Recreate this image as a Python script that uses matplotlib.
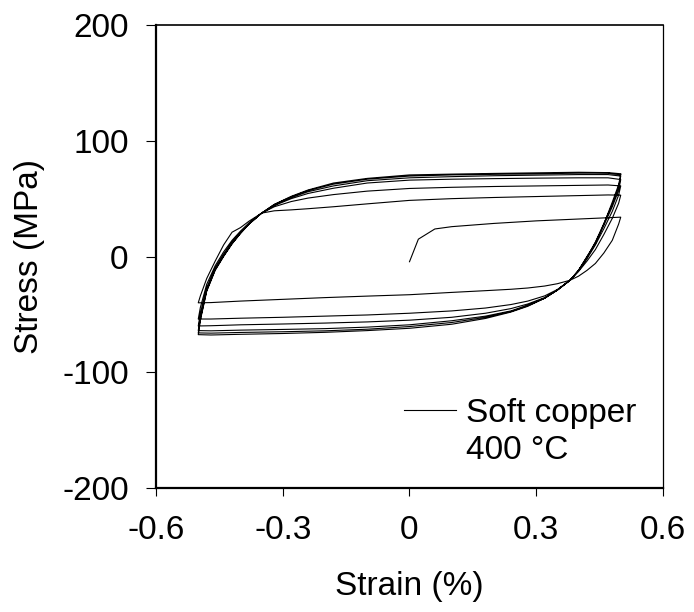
import numpy as np
import matplotlib
matplotlib.use("Agg")
import matplotlib.pyplot as plt
from matplotlib.lines import Line2D

plt.rcParams['font.family'] = ['Liberation Sans', 'DejaVu Sans']

# ---------------- data ----------------
# monotonic first loading
mono_strain = [0.0, 0.021, 0.06, 0.10, 0.20, 0.30, 0.40, 0.47, 0.50]
mono_stress = [-4.5, 15, 23.8, 25.8, 28.6, 30.8, 32.4, 33.5, 34]

# reloading (upper) branches share this strain grid (-0.5 -> 0.5)
up_strain = [-0.50, -0.495, -0.48, -0.46, -0.44, -0.42, -0.40, -0.38, -0.35, -0.32,
             -0.28, -0.24, -0.18, -0.10, 0.00, 0.10, 0.20, 0.30, 0.40, 0.47, 0.50]
U1 = [-40, -34, -19, -4, 10, 21, 25, 30.5, 37.5, 39.5,
      40.3, 41.3, 43, 45.5, 48.5, 50, 51, 51.8, 52.6, 53.2, 53]
U2 = [-54, -44, -24, -8, 4, 14, 22, 29, 37.5, 43,
      47.5, 50.5, 53.5, 56.5, 58.8, 59.8, 60.5, 61, 61.5, 61.8, 61]
U3 = [-60, -49, -27, -10, 2, 12.5, 21, 28.5, 37.5, 44,
      50, 54.5, 59, 63.5, 66, 66.8, 67.3, 67.7, 68, 68, 66.5]
U4 = [-64, -52, -28.5, -11, 1, 11.5, 20.5, 28, 37.5, 44.5,
      51, 56, 61, 65.5, 68, 69, 69.8, 70.3, 70.8, 70.8, 69.5]
U5 = [-66, -54, -29.5, -11.5, 0.5, 11, 20, 28, 37.5, 45,
      51.5, 57, 62.5, 66.8, 69.5, 70.5, 71, 71.5, 72, 72, 70.5]
U6 = [-67.5, -55, -30, -12, 0, 11, 20, 28, 37.5, 45,
      52, 57.5, 63.5, 67.5, 70.5, 71.2, 71.8, 72.3, 72.8, 72.5, 71.5]

# unloading (lower) branches share this strain grid (0.5 -> -0.5)
low_strain = [0.50, 0.495, 0.48, 0.46, 0.44, 0.42, 0.40, 0.38, 0.35, 0.32,
              0.28, 0.24, 0.18, 0.10, 0.00, -0.10, -0.20, -0.30, -0.40, -0.47, -0.50]
L1 = [34, 28, 14, 3, -6, -12, -17, -20.5, -23.5, -25.5,
      -27.2, -28.3, -29.5, -31, -33, -34.2, -35.5, -37, -38.5, -39.8, -40]
L2 = [53, 46, 33, 19, 6, -4, -13, -20.5, -28.5, -34,
      -38.5, -41.5, -44.5, -47, -49, -50.5, -51.5, -52.5, -53.3, -54, -54]
L3 = [61, 53, 39, 24, 10, -2, -12.5, -20.5, -29, -35.5,
      -41, -45, -49, -52.5, -55, -56.5, -57.5, -58.3, -59, -59.8, -60]
L4 = [66.5, 57, 43, 27, 12, -1, -12, -20.5, -29, -36,
      -42, -47, -51.5, -55.5, -59, -61, -62.3, -63, -63.6, -64.2, -64]
L5 = [69.5, 60, 45, 28.5, 12.5, -0.5, -12, -20.5, -29, -36,
      -42.5, -47.5, -52.5, -57, -60.5, -62.8, -64.2, -65, -65.6, -66.2, -66]
L6 = [71, 62, 47, 28, 11, 0, -12, -20.5, -29, -36,
      -43, -48, -53.5, -58.5, -62, -64, -65.5, -66.5, -67.2, -67.8, -67.5]

x_ticks = [-0.6, -0.3, 0.0, 0.3, 0.6]
x_tick_labels = ["-0.6", "-0.3", "0", "0.3", "0.6"]
y_ticks = [-200, -100, 0, 100, 200]
y_tick_labels = ["-200", "-100", "0", "100", "200"]

# ---------------- build path in test order ----------------
seq_strain = list(mono_strain)
seq_stress = list(mono_stress)
for low, up in [(L1, U1), (L2, U2), (L3, U3), (L4, U4), (L5, U5), (L6, U6)]:
    seq_strain += low_strain + up_strain
    seq_stress += low + up

# ---------------- figure ----------------
fig = plt.figure(figsize=(6.94, 6.12), dpi=100)
ax = fig.add_axes([0.2248, 0.2026, 0.7305, 0.7565])

ax.plot(seq_strain, seq_stress, color='black', lw=0.8)

ax.set_xlim(-0.6, 0.6)
ax.set_ylim(-200, 200)
ax.set_xticks(x_ticks)
ax.set_xticklabels(x_tick_labels)
ax.set_yticks(y_ticks)
ax.set_yticklabels(y_tick_labels)

fs = 24
ax.tick_params(axis='y', direction='out', length=7.2, width=0.8, pad=12.5, labelsize=fs)
ax.tick_params(axis='x', direction='out', length=5.8, width=0.8, pad=13.5, labelsize=fs)

for s in ['left', 'bottom']:
    ax.spines[s].set_linewidth(1.6)
ax.spines['top'].set_linewidth(1.2)
ax.spines['right'].set_linewidth(0.9)

ax.set_xlabel("Strain (%)", fontsize=fs, labelpad=18)
ax.set_ylabel("Stress (MPa)", fontsize=fs, labelpad=12)

handles = [Line2D([], [], color='black', lw=0.8), Line2D([], [], color='none', lw=0)]
leg = ax.legend(handles, ["Soft copper", "400 °C"], loc='lower left',
                bbox_to_anchor=(0.49, 0.048), frameon=False, fontsize=24,
                handlelength=1.55, handletextpad=0.3, labelspacing=0.18,
                borderaxespad=0, borderpad=0)

fig.savefig("out.png", dpi=100)
